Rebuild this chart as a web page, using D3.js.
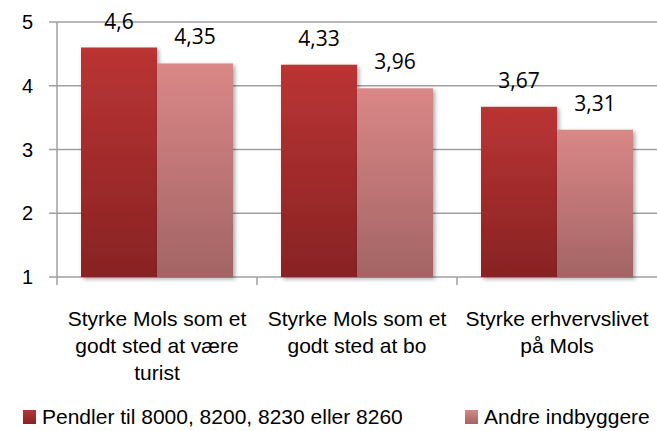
<!DOCTYPE html>
<html>
<head>
<meta charset="utf-8">
<script src="https://cdn.jsdelivr.net/npm/d3@7"></script>
<style>
  body { margin: 0; background: #fff; }
  svg { display: block; }
</style>
</head>
<body>
<div id="chart"></div>
<script>
const categories = [
    ["Styrke Mols som et", "godt sted at være", "turist"],
    ["Styrke Mols som et", "godt sted at bo"],
    ["Styrke erhvervslivet", "på Mols"]
]
const seriesNames = ["Pendler til 8000, 8200, 8230 eller 8260", "Andre indbyggere"]
const pendler = [4.6, 4.33, 3.67]
const andre = [4.35, 3.96, 3.31]
const valueLabels = [["4,6", "4,35"], ["4,33", "3,96"], ["3,67", "3,31"]]
const yTicks = [1, 2, 3, 4, 5]

const width = 657, height = 431
const margin = { top: 22, right: 0, bottom: 154, left: 57 }

const svg = d3.select("#chart")
    .append("svg")
    .attr("width", width)
    .attr("height", height)

const defs = svg.append("defs")
const grads = [["#bb3434", "#882323"], ["#da8787", "#a36464"]]
grads.forEach((g, i) => {
    const lg = defs.append("linearGradient")
        .attr("id", "grad" + i)
        .attr("x1", 0).attr("y1", 0).attr("x2", 0).attr("y2", 1)
    lg.append("stop").attr("offset", "0%").attr("stop-color", g[0])
    lg.append("stop").attr("offset", "100%").attr("stop-color", g[1])
})
defs.append("filter")
    .attr("id", "shadow")
    .attr("x", "-10%").attr("y", "-10%").attr("width", "130%").attr("height", "130%")
    .append("feDropShadow")
    .attr("dx", 2).attr("dy", 2).attr("stdDeviation", 2)
    .attr("flood-color", "#000").attr("flood-opacity", 0.35)

const x0 = d3.scaleBand()
    .domain(d3.range(categories.length))
    .range([margin.left, width - margin.right])
    .paddingInner(0)
    .paddingOuter(0)

const x1 = d3.scaleBand()
    .domain([0, 1])
    .range([0, x0.bandwidth()])
    .paddingInner(0)
    .paddingOuter(0.316)

const y = d3.scaleLinear()
    .domain([1, 5])
    .range([height - margin.bottom, margin.top])

// gridlines
svg.append("g")
    .selectAll("line")
    .data(yTicks)
    .join("line")
    .attr("x1", margin.left - 8)
    .attr("x2", width)
    .attr("y1", d => y(d))
    .attr("y2", d => y(d))
    .attr("stroke", "#a0a0a0")
    .attr("stroke-width", 1.5)

// y axis line
svg.append("line")
    .attr("x1", margin.left).attr("x2", margin.left)
    .attr("y1", y(5)).attr("y2", y(1) + 8)
    .attr("stroke", "#a0a0a0")
    .attr("stroke-width", 1.5)

// category ticks
svg.append("g")
    .selectAll("line")
    .data(d3.range(1, categories.length))
    .join("line")
    .attr("x1", d => x0(d)).attr("x2", d => x0(d))
    .attr("y1", y(1)).attr("y2", y(1) + 8)
    .attr("stroke", "#a0a0a0")
    .attr("stroke-width", 1.5)

// y tick labels
svg.append("g")
    .selectAll("text")
    .data(yTicks)
    .join("text")
    .attr("x", 33)
    .attr("y", d => y(d) + 7)
    .attr("text-anchor", "end")
    .attr("font-family", "Liberation Sans, Arial, sans-serif")
    .attr("font-size", 20)
    .attr("fill", "#000")
    .text(d => d)

// bars
const data = categories.map((c, i) => ({ i, values: [pendler[i], andre[i]] }))

const groups = svg.append("g")
    .selectAll("g")
    .data(data)
    .join("g")
    .attr("transform", d => `translate(${x0(d.i)},0)`)

groups.selectAll("rect")
    .data(d => d.values.map((v, s) => ({ v, s })))
    .join("rect")
    .attr("x", d => x1(d.s))
    .attr("y", d => y(d.v))
    .attr("width", x1.bandwidth())
    .attr("height", d => y(1) - y(d.v))
    .attr("fill", d => `url(#grad${d.s})`)
    .attr("filter", "url(#shadow)")

groups.selectAll("text.value")
    .data(d => d.values.map((v, s) => ({ v, s, label: valueLabels[d.i][s] })))
    .join("text")
    .attr("class", "value")
    .attr("x", d => x1(d.s) + x1.bandwidth() / 2)
    .attr("y", d => y(d.v) - 19)
    .attr("text-anchor", "middle")
    .attr("font-family", "Open Sans, sans-serif")
    .attr("font-size", 21)
    .attr("fill", "#000")
    .text(d => d.label)

// category labels
svg.append("g")
    .selectAll("text")
    .data(categories)
    .join("text")
    .attr("x", (d, i) => x0(i) + x0.bandwidth() / 2)
    .attr("y", 326)
    .attr("text-anchor", "middle")
    .attr("font-family", "Liberation Sans, Arial, sans-serif")
    .attr("font-size", 21)
    .attr("fill", "#000")
    .selectAll("tspan")
    .data(d => d)
    .join("tspan")
    .attr("x", function () { return d3.select(this.parentNode).attr("x") })
    .attr("dy", (d, i) => i === 0 ? 0 : 27)
    .text(d => d)

// legend
const legendX = [23, 465]
const legend = svg.append("g")
    .selectAll("g")
    .data(seriesNames)
    .join("g")
    .attr("transform", (d, i) => `translate(${legendX[i]},410)`)

legend.append("rect")
    .attr("width", 13)
    .attr("height", 14)
    .attr("fill", (d, i) => `url(#grad${i})`)

legend.append("text")
    .attr("x", 19)
    .attr("y", 14)
    .attr("font-family", "Liberation Sans, Arial, sans-serif")
    .attr("font-size", 21)
    .attr("fill", "#000")
    .text(d => d)
</script>
</body>
</html>
